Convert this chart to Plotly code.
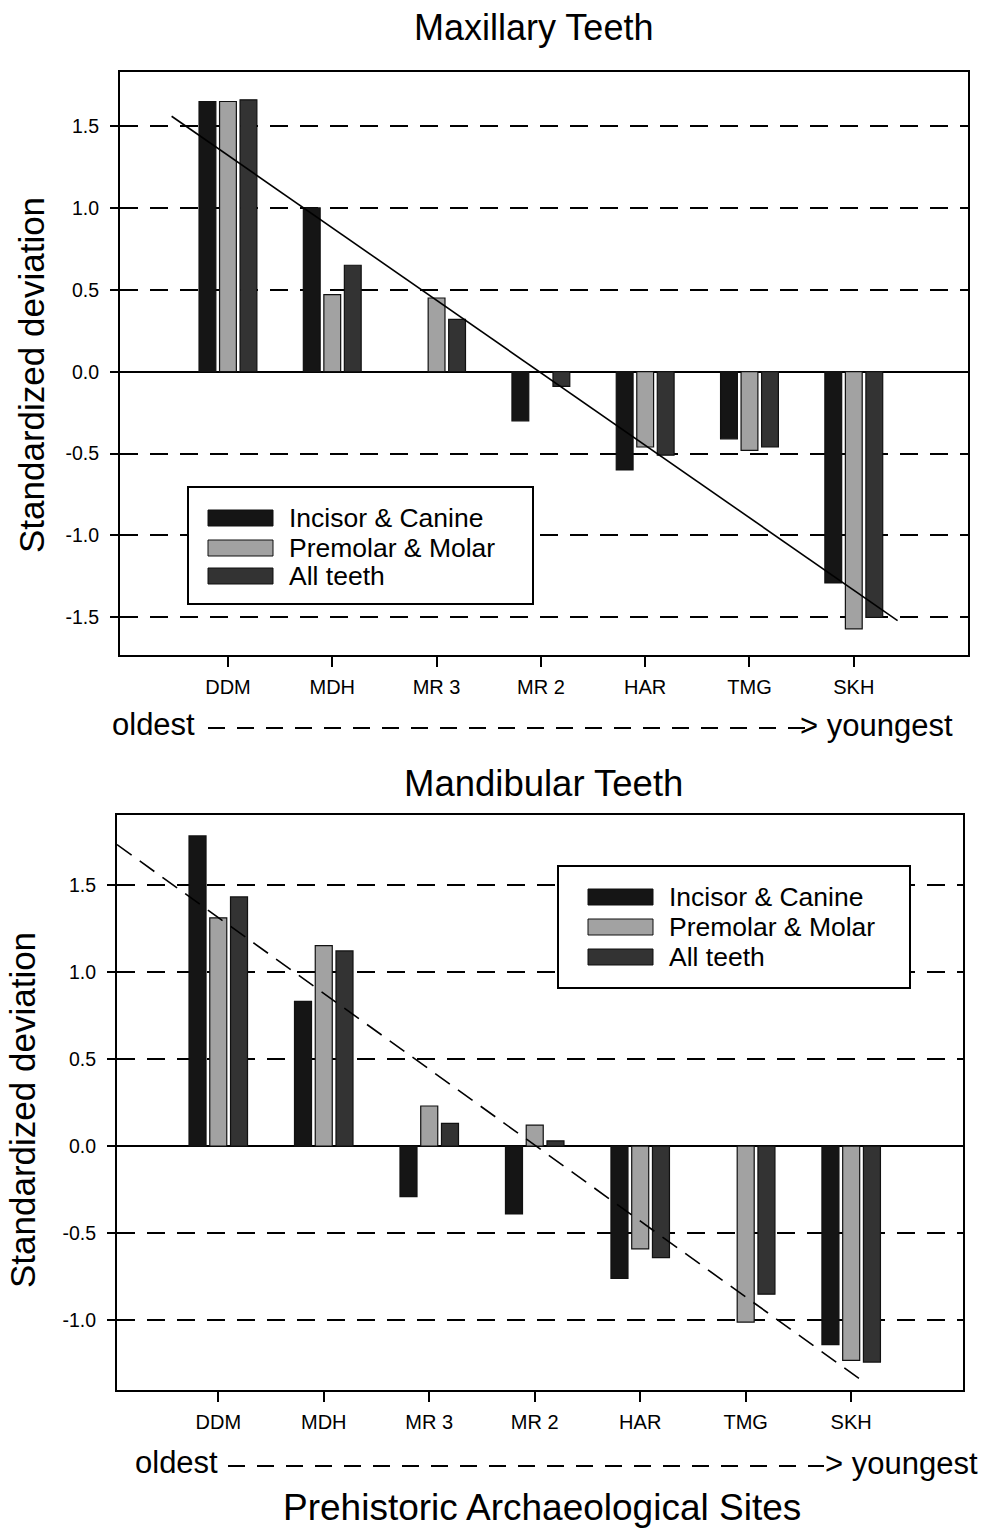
import plotly.graph_objects as go

W, H = 983, 1530

sites = ["DDM", "MDH", "MR 3", "MR 2", "HAR", "TMG", "SKH"]
series_names = ["Incisor & Canine", "Premolar & Molar", "All teeth"]

# Maxillary teeth (standardized deviation)
max_incisor = [1.65, 1.00, None, -0.30, -0.60, -0.41, -1.29]
max_premolar = [1.65, 0.47, 0.45, None, -0.46, -0.48, -1.57]
max_all = [1.66, 0.65, 0.32, -0.09, -0.51, -0.46, -1.50]

# Mandibular teeth (standardized deviation)
mand_incisor = [1.78, 0.83, -0.29, -0.39, -0.76, None, -1.14]
mand_premolar = [1.31, 1.15, 0.23, 0.12, -0.59, -1.01, -1.23]
mand_all = [1.43, 1.12, 0.13, 0.03, -0.64, -0.85, -1.24]

# Trend lines (site index, value)
max_trend_x = [-0.54, 6.42]
max_trend_y = [1.56, -1.52]
mand_trend_x = [-0.96, 6.10]
mand_trend_y = [1.73, -1.345]

y_ticks = [-1.5, -1.0, -0.5, 0.0, 0.5, 1.0, 1.5]
y_ticks_mand = [-1.0, -0.5, 0.0, 0.5, 1.0, 1.5]

colors = ["#151515", "#a2a2a2", "#333333"]
FONT = "Liberation Sans, Arial, sans-serif"

def px(x):
    return x / W

def py(y):
    return 1 - y / H

xs = list(range(len(sites)))
fig = go.Figure()

for vals, name, col in zip([max_incisor, max_premolar, max_all], series_names, colors):
    fig.add_trace(go.Bar(x=xs, y=vals, name=name, marker=dict(color=col, line=dict(color="#111", width=1.2)),
                         xaxis="x", yaxis="y", showlegend=False))
fig.add_trace(go.Scatter(x=max_trend_x, y=max_trend_y, mode="lines", line=dict(color="black", width=1.6),
                         xaxis="x", yaxis="y", showlegend=False))

for vals, name, col in zip([mand_incisor, mand_premolar, mand_all], series_names, colors):
    fig.add_trace(go.Bar(x=xs, y=vals, name=name, marker=dict(color=col, line=dict(color="#111", width=1.2)),
                         xaxis="x2", yaxis="y2", showlegend=False))
fig.add_trace(go.Scatter(x=mand_trend_x, y=mand_trend_y, mode="lines",
                         line=dict(color="black", width=1.6, dash="18px,10px"),
                         xaxis="x2", yaxis="y2", showlegend=False))

xcommon = dict(tickmode="array", tickvals=xs, ticktext=sites, ticks="outside", ticklen=10, tickwidth=1.5,
               tickcolor="black", showline=True, linecolor="black", linewidth=2, mirror=True,
               showgrid=False, zeroline=False, tickfont=dict(family=FONT, size=20, color="black"),
               ticklabelstandoff=3)
ycommon = dict(ticks="outside", ticklen=8, tickwidth=1.5, tickcolor="black", showline=True,
               linecolor="black", linewidth=2, mirror=True, showgrid=True, gridcolor="black",
               gridwidth=1.6, griddash="18px,12px", zeroline=True, zerolinecolor="black",
               zerolinewidth=1.6, tickmode="array", tickfont=dict(family=FONT, size=19.5, color="black"),
               ticklabelstandoff=7)

fig.update_layout(
    width=W, height=H, margin=dict(l=0, r=0, t=0, b=0),
    paper_bgcolor="white", plot_bgcolor="white",
    barmode="group", bargap=0.41, bargroupgap=0.18,
    font=dict(family=FONT, color="black"),
    xaxis=dict(domain=[px(120), px(968)], range=[-1.035, 7.095], anchor="y", **xcommon),
    yaxis=dict(domain=[py(655), py(72)], range=[-1.73, 1.83], anchor="x", tickvals=y_ticks,
               ticktext=[f"{v:.1f}" for v in y_ticks], **ycommon),
    xaxis2=dict(domain=[px(117), px(963)], range=[-0.96, 7.06], anchor="y2", **xcommon),
    yaxis2=dict(domain=[py(1390), py(815)], range=[-1.40, 1.90], anchor="x2", tickvals=y_ticks_mand,
                ticktext=[f"{v:.1f}" for v in y_ticks_mand], **ycommon),
)

ann = []
shapes = []

def text(x, y, s, size, xanchor="center", angle=0):
    ann.append(dict(x=px(x), y=py(y), xref="paper", yref="paper", text=s, showarrow=False,
                    xanchor=xanchor, yanchor="middle", textangle=angle,
                    font=dict(family=FONT, size=size, color="black")))

text(533, 27, "Maxillary Teeth", 36)
text(543, 784, "Mandibular Teeth", 36.5)
text(31, 375, "Standardized deviation", 35, angle=-90)
text(22, 1110, "Standardized deviation", 35, angle=-90)
text(542, 1507, "Prehistoric Archaeological Sites", 37)

# oldest -> youngest
for (xl, xr, y, xs0, xs1) in [(110, 955, 724, 208, 806), (133, 980, 1462, 228, 824)]:
    text(xl, y, "oldest", 31, xanchor="left")
    text(xr, y + 1, "> youngest", 31, xanchor="right")
    shapes.append(dict(type="line", xref="paper", yref="paper", x0=px(xs0), x1=px(xs1),
                       y0=py(y + 4), y1=py(y + 4), line=dict(color="black", width=1.8, dash="17px,12px")))

# manual legends
def legend(bx0, by0, bx1, by1, sx0, sx1, centers, tx):
    shapes.append(dict(type="rect", xref="paper", yref="paper", x0=px(bx0), x1=px(bx1), y0=py(by1), y1=py(by0),
                       fillcolor="white", line=dict(color="black", width=2), layer="above"))
    for c, name, col in zip(centers, series_names, colors):
        shapes.append(dict(type="rect", xref="paper", yref="paper", x0=px(sx0), x1=px(sx1),
                           y0=py(c + 8), y1=py(c - 8), fillcolor=col, line=dict(color="#111", width=1),
                           layer="above"))
        text(tx, c, name, 26.5, xanchor="left")

legend(188, 487, 533, 604, 208, 273, [518, 548, 576], 287)
legend(558, 866, 910, 988, 588, 653, [897, 927, 957], 667)

fig.update_layout(annotations=ann, shapes=shapes)
fig.write_html("out.html", config={"displayModeBar": False},
               post_script="document.body.style.margin='0';document.body.style.overflow='hidden';")
